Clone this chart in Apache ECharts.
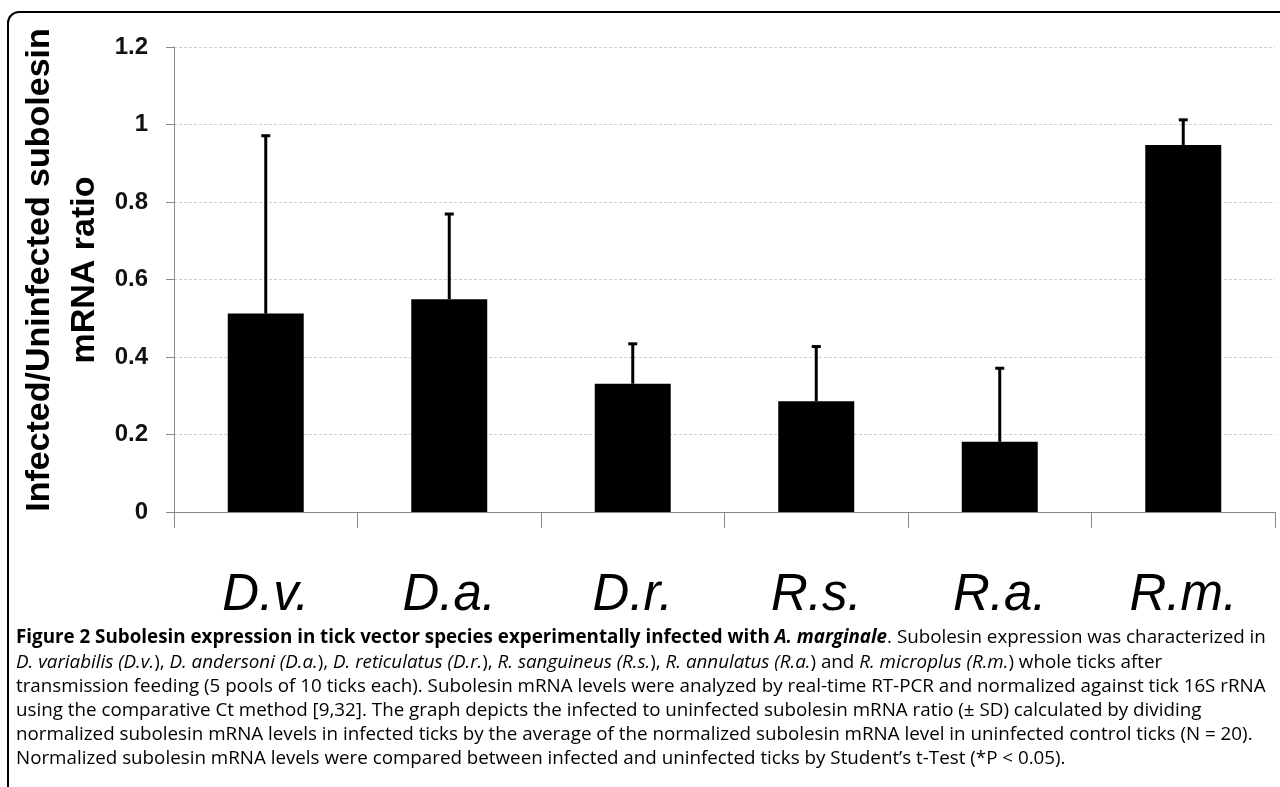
<!DOCTYPE html>
<html>
<head>
<meta charset="utf-8">
<style>
  html, body { margin: 0; padding: 0; background: #fff; }
  #chart { width: 1280px; height: 787px; }
</style>
<script src="https://cdn.jsdelivr.net/npm/echarts@6/dist/echarts.min.js"></script>
</head>
<body>
<div id="chart"></div>
<script>
// ---- data ----
const categories = ['D.v.', 'D.a.', 'D.r.', 'R.s.', 'R.a.', 'R.m.'];
const ratioValues = [0.512, 0.549, 0.331, 0.286, 0.181, 0.947];
const sdValues = [0.459, 0.220, 0.103, 0.141, 0.190, 0.065];
const yMin = 0, yMax = 1.2, yStep = 0.2;
const yTitleLines = ['Infected/Uninfected subolesin', 'mRNA ratio'];
const captionLines = [
  '{b|Figure 2 Subolesin expression in tick vector species experimentally infected with }{bi|A. marginale}{n|. Subolesin expression was characterized in}',
  '{i|D. variabilis (D.v.}{n|), }{i|D. andersoni (D.a.}{n|), }{i|D. reticulatus (D.r.}{n|), }{i|R. sanguineus (R.s.}{n|), }{i|R. annulatus (R.a.}{n|) and }{i|R. microplus (R.m.}{n|) whole ticks after}',
  '{n|transmission feeding (5 pools of 10 ticks each). Subolesin mRNA levels were analyzed by real-time RT-PCR and normalized against tick 16S rRNA}',
  '{n|using the comparative Ct method [9,32]. The graph depicts the infected to uninfected subolesin mRNA ratio (± SD) calculated by dividing}',
  '{n|normalized subolesin mRNA levels in infected ticks by the average of the normalized subolesin mRNA level in uninfected control ticks (N = 20).}',
  '{n|Normalized subolesin mRNA levels were compared between infected and uninfected ticks by Student\u2019s t-Test (*P < 0.05).}'
];

// ---- build ----
const chart = echarts.init(document.getElementById('chart'), null, { renderer: 'canvas' });

const capFont = 'Open Sans';
const capSize = 18.8;
const capColor = '#231f20';
const rich = {
  n: { fontFamily: capFont, fontSize: capSize, color: capColor },
  b: { fontFamily: capFont, fontSize: capSize, color: capColor, fontWeight: 'bold' },
  bi: { fontFamily: capFont, fontSize: capSize, color: capColor, fontWeight: 'bold', fontStyle: 'italic' },
  i: { fontFamily: capFont, fontSize: capSize, color: capColor, fontStyle: 'italic' }
};

const graphics = [
  {
    type: 'rect', silent: true, z: 100,
    shape: { x: 8, y: 12, width: 1320, height: 820, r: 11 },
    style: { fill: 'none', stroke: '#000', lineWidth: 2 }
  },
  {
    type: 'text', x: 40, y: 270, rotation: Math.PI / 2,
    style: { text: yTitleLines[0], fontFamily: 'Liberation Sans', fontWeight: 'bold', fontSize: 34,
             fill: '#000', align: 'center', verticalAlign: 'middle' }
  },
  {
    type: 'text', x: 85, y: 270, rotation: Math.PI / 2,
    style: { text: yTitleLines[1], fontFamily: 'Liberation Sans', fontWeight: 'bold', fontSize: 34,
             fill: '#000', align: 'center', verticalAlign: 'middle' }
  }
];
captionLines.forEach(function (line, k) {
  graphics.push({
    type: 'text', x: 16, y: 645 + k * 24.2 - 7,
    style: { text: line, rich: rich, align: 'left', verticalAlign: 'middle' }
  });
});

const errData = categories.map(function (c, i) { return [i, ratioValues[i], sdValues[i]]; });

chart.setOption({
  animation: false,
  backgroundColor: '#fff',
  grid: { left: 174, right: 5, top: 47, bottom: 275 },
  xAxis: {
    type: 'category',
    data: categories,
    axisLine: { show: true, lineStyle: { color: '#888', width: 1 } },
    axisTick: { show: true, length: 16, alignWithLabel: false, lineStyle: { color: '#888', width: 1 } },
    axisLabel: { margin: 58, fontSize: 51, fontStyle: 'italic', fontFamily: 'Liberation Sans', color: '#000' },
    splitLine: { show: false }
  },
  yAxis: {
    type: 'value',
    min: yMin, max: yMax, interval: yStep,
    axisLine: { show: true, lineStyle: { color: '#888', width: 1 } },
    axisTick: { show: true, inside: false, length: 8, lineStyle: { color: '#888', width: 1 } },
    axisLabel: { margin: 26, fontSize: 24, fontWeight: 'bold', fontFamily: 'Liberation Sans', color: '#111' },
    splitLine: { show: true, lineStyle: { color: '#cfcfcf', type: [3, 2], width: 1 } }
  },
  series: [
    {
      type: 'bar',
      data: ratioValues,
      barWidth: '41.4%',
      itemStyle: { color: '#000' },
      z: 2
    },
    {
      type: 'custom',
      data: errData,
      encode: { x: 0, y: 1 },
      z: 3,
      renderItem: function (params, api) {
        const i = api.value(0);
        const v = api.value(1);
        const sd = api.value(2);
        const base = api.coord([i, v]);
        const top = api.coord([i, v + sd]);
        const half = 4.5;
        return {
          type: 'group',
          children: [
            { type: 'line', shape: { x1: base[0], y1: base[1], x2: top[0], y2: top[1] },
              style: { stroke: '#000', lineWidth: 3 } },
            { type: 'line', shape: { x1: top[0] - half, y1: top[1], x2: top[0] + half, y2: top[1] },
              style: { stroke: '#000', lineWidth: 3 } }
          ]
        };
      }
    }
  ],
  graphic: graphics
});
</script>
</body>
</html>
